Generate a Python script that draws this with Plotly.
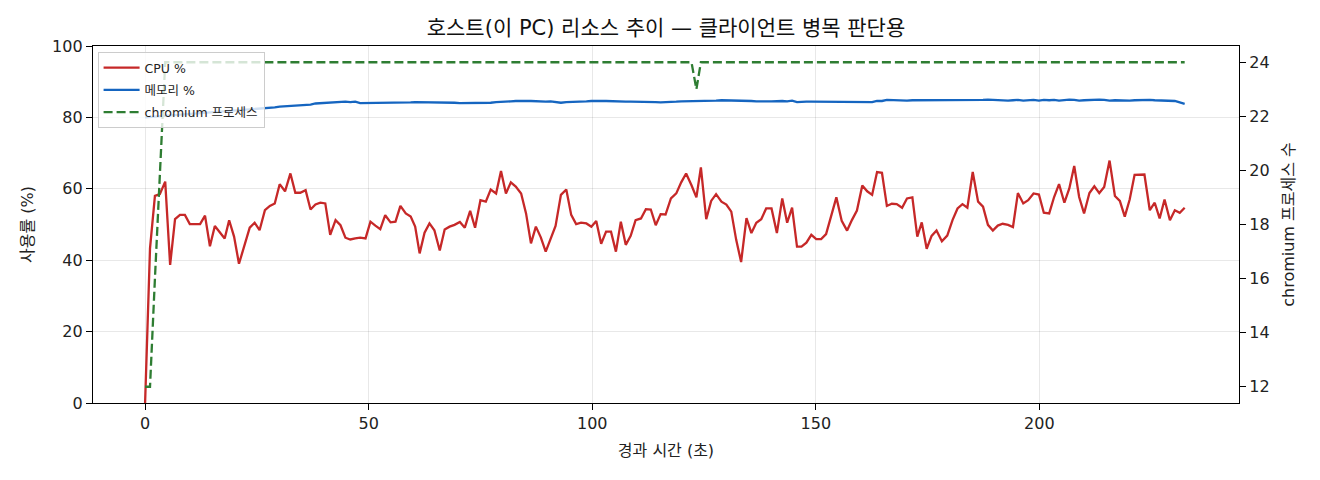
#!/usr/bin python3

# Imports
# ~~~~~~~~~~~~~~~~~~~~~~~~~~~~~~~~~~~~~~~~~~~~~~~~~~~~~~~~~~~~~~~~~~~~~~~~~~~~~~~~~~~~~~~~
# 3rd party:
from plotly import graph_objects as go

# ~~~~~~~~~~~~~~~~~~~~~~~~~~~~~~~~~~~~~~~~~~~~~~~~~~~~~~~~~~~~~~~~~~~~~~~~~~~~~~~~~~~~~~~~

FONT = '"DejaVu Sans", "Noto Sans CJK KR", sans-serif'

TITLE = "호스트(이 PC) 리소스 추이 — 클라이언트 병목 판단용"

# sample times (seconds since start)
elapsed_s = [
    0.0, 1.1, 2.2, 3.3, 4.5, 5.6, 6.7, 7.8, 8.9, 10.0,
    11.2, 12.3, 13.4, 14.5, 15.6, 16.7, 17.8, 18.8, 19.9, 21.0,
    22.2, 23.4, 24.5, 25.6, 26.8, 27.9, 29.0, 30.1, 31.3, 32.5,
    33.6, 34.7, 35.9, 37.0, 38.1, 39.2, 40.3, 41.4, 42.6, 43.7,
    44.8, 45.9, 47.0, 48.1, 49.3, 50.4, 51.5, 52.6, 53.7, 54.9,
    56.0, 57.1, 58.3, 59.4, 60.4, 61.4, 62.5, 63.6, 64.7, 65.9,
    67.0, 68.1, 69.2, 70.4, 71.5, 72.7, 73.8, 75.0, 76.2, 77.3,
    78.5, 79.6, 80.7, 81.8, 82.9, 84.1, 85.2, 86.3, 87.4, 88.5,
    89.6, 90.7, 91.8, 93.0, 94.2, 95.3, 96.4, 97.5, 98.7, 99.8,
    100.9, 102.0, 103.1, 104.2, 105.3, 106.4, 107.5, 108.6, 109.7, 110.9,
    112.0, 113.1, 114.2, 115.3, 116.4, 117.6, 118.8, 119.9, 121.0, 122.2,
    123.3, 124.3, 125.5, 126.6, 127.7, 128.9, 130.0, 131.1, 132.2, 133.3,
    134.5, 135.6, 136.7, 137.8, 138.9, 140.1, 141.3, 142.5, 143.6, 144.7,
    145.8, 146.8, 147.9, 149.0, 150.1, 151.2, 152.3, 153.4, 154.6, 155.8,
    157.0, 158.1, 159.2, 160.4, 161.5, 162.6, 163.7, 164.8, 165.9, 167.0,
    168.1, 169.3, 170.4, 171.6, 172.7, 173.7, 174.8, 175.9, 177.0, 178.2,
    179.4, 180.6, 181.7, 182.8, 183.9, 185.1, 186.3, 187.4, 188.5, 189.6,
    190.7, 191.8, 193.0, 194.1, 195.2, 196.4, 197.5, 198.7, 199.9, 201.0,
    202.2, 203.3, 204.4, 205.6, 206.7, 207.8, 208.9, 210.0, 211.2, 212.3,
    213.4, 214.5, 215.7, 216.9, 218.0, 219.1, 220.2, 221.3, 222.4, 223.5,
    224.7, 225.8, 226.9, 228.0, 229.2, 230.3, 231.4, 232.5,
]

cpu_pct = [
    0.0, 43.3, 58.0, 58.5, 62.0, 38.7, 51.5, 52.7, 52.7, 50.1,
    50.1, 50.1, 52.5, 43.9, 49.6, 48.0, 46.1, 51.2, 46.6, 39.0,
    44.2, 49.1, 50.5, 48.4, 54.0, 55.2, 55.9, 61.3, 59.3, 64.3,
    58.9, 58.9, 59.6, 54.2, 55.6, 56.1, 55.9, 47.1, 51.2, 49.8,
    46.3, 45.8, 46.1, 46.3, 46.1, 50.8, 49.7, 48.7, 52.6, 50.6,
    50.8, 55.2, 53.1, 52.2, 49.4, 41.9, 47.7, 50.3, 48.4, 42.7,
    48.6, 49.4, 49.9, 50.7, 49.1, 53.8, 49.1, 56.8, 56.4, 59.8,
    58.7, 65.0, 58.7, 61.8, 60.6, 58.7, 53.1, 44.7, 49.4, 46.4,
    42.4, 46.1, 49.6, 58.3, 59.8, 52.7, 50.1, 50.5, 50.3, 49.4,
    51.0, 44.6, 48.0, 48.0, 42.4, 50.8, 44.3, 46.8, 51.2, 51.7,
    54.3, 54.2, 49.8, 52.9, 52.8, 57.3, 58.7, 61.8, 64.3, 61.0,
    57.6, 66.0, 51.5, 56.6, 58.5, 56.4, 55.6, 53.6, 45.7, 39.5,
    51.8, 47.6, 50.5, 51.5, 54.5, 54.5, 47.6, 57.3, 50.5, 54.7,
    43.8, 43.8, 44.9, 47.1, 45.9, 45.9, 47.3, 52.2, 57.6, 51.0,
    48.3, 51.3, 53.9, 60.9, 59.3, 58.3, 64.7, 64.5, 55.2, 55.8,
    55.7, 54.7, 57.3, 57.6, 46.6, 50.6, 43.2, 46.8, 48.3, 45.3,
    46.9, 51.3, 54.5, 55.7, 54.7, 64.7, 56.4, 55.0, 49.9, 48.3,
    49.7, 50.2, 49.9, 49.3, 58.8, 55.9, 56.8, 58.7, 58.4, 53.3,
    53.1, 57.7, 61.3, 56.1, 60.1, 66.4, 57.7, 53.1, 58.8, 60.7,
    58.8, 60.5, 67.9, 58.0, 56.6, 52.2, 57.0, 63.9, 63.9, 64.0,
    54.0, 56.1, 51.7, 57.0, 51.2, 54.0, 53.3, 54.7,
]

mem_pct = [
    80.0, 80.1, 80.2, 80.3, 80.5, 80.6, 80.7, 80.8, 80.9, 81.0,
    81.1, 81.2, 81.3, 81.3, 81.4, 81.5, 81.6, 81.7, 81.8, 81.9,
    82.0, 82.1, 82.2, 82.3, 82.5, 82.6, 82.8, 83.0, 83.1, 83.4,
    83.3, 83.4, 83.6, 83.6, 83.9, 84.0, 84.1, 84.2, 84.4, 84.4,
    84.4, 84.3, 84.4, 84.0, 84.0, 84.0, 84.1, 84.1, 84.2, 84.2,
    84.1, 84.2, 84.2, 84.2, 84.3, 84.3, 84.2, 84.2, 84.3, 84.3,
    84.2, 84.1, 84.1, 84.0, 84.0, 84.1, 84.0, 84.1, 84.2, 84.1,
    84.3, 84.3, 84.5, 84.5, 84.6, 84.5, 84.6, 84.6, 84.5, 84.5,
    84.4, 84.5, 84.3, 84.1, 84.3, 84.3, 84.4, 84.4, 84.5, 84.6,
    84.7, 84.6, 84.6, 84.5, 84.5, 84.5, 84.4, 84.4, 84.4, 84.5,
    84.4, 84.3, 84.3, 84.2, 84.2, 84.3, 84.4, 84.5, 84.5, 84.5,
    84.6, 84.6, 84.6, 84.7, 84.7, 84.8, 84.8, 84.7, 84.8, 84.7,
    84.7, 84.6, 84.5, 84.4, 84.5, 84.5, 84.6, 84.6, 84.5, 84.7,
    84.3, 84.4, 84.4, 84.4, 84.4, 84.3, 84.4, 84.4, 84.3, 84.4,
    84.4, 84.4, 84.4, 84.4, 84.4, 84.3, 84.6, 84.6, 84.9, 84.8,
    84.8, 84.8, 84.7, 84.8, 84.8, 84.8, 84.7, 84.8, 84.8, 84.8,
    84.9, 84.8, 84.8, 84.7, 84.7, 84.8, 84.9, 84.9, 85.0, 84.9,
    84.8, 84.9, 84.7, 84.8, 84.9, 84.7, 84.8, 84.9, 84.7, 84.9,
    84.8, 84.9, 84.7, 84.9, 85.0, 84.9, 84.7, 84.8, 84.9, 84.8,
    85.0, 84.9, 84.7, 84.8, 84.7, 84.8, 84.7, 84.8, 84.9, 84.8,
    84.9, 84.8, 84.8, 84.7, 84.8, 84.6, 84.2, 83.8,
]

chromium_procs = [12, 12, 16, 20] + [24] * 106 + [23] + [24] * 97

x_ticks = [0, 50, 100, 150, 200]
y_ticks = [0, 20, 40, 60, 80, 100]
y2_ticks = [12, 14, 16, 18, 20, 22, 24]

COLOURS = {
    "cpu": "#c62828",
    "mem": "#1565c0",
    "chromium": "#2e7d32",
    "grid": "rgba(0,0,0,0.09)",
}

AXIS_COMMON = dict(
    showline=True,
    linecolor="black",
    linewidth=1.3,
    ticks="outside",
    ticklen=6,
    tickwidth=1.3,
    tickcolor="black",
    zeroline=False,
    automargin=False,
    tickfont=dict(family=FONT, size=16, color="#222"),
    title_font=dict(family=FONT, size=16, color="#222"),
)


fig = go.Figure()

fig.add_trace(
    go.Scatter(
        x=elapsed_s,
        y=cpu_pct,
        name="CPU %",
        legendgroup="cpu",
        mode="lines",
        line=dict(color=COLOURS["cpu"], width=2.3),
    )
)

fig.add_trace(
    go.Scatter(
        x=elapsed_s,
        y=mem_pct,
        name="메모리 %",
        legendgroup="mem",
        mode="lines",
        line=dict(color=COLOURS["mem"], width=2.3),
    )
)

fig.add_trace(
    go.Scatter(
        x=elapsed_s,
        y=chromium_procs,
        name="chromium 프로세스",
        legendgroup="chromium",
        mode="lines",
        yaxis="y2",
        line=dict(color=COLOURS["chromium"], width=2.3, dash="9px,4px"),
    )
)

fig.update_layout(
    width=1320,
    height=480,
    paper_bgcolor="white",
    plot_bgcolor="white",
    margin=dict(l=93, r=81, t=46, b=77, autoexpand=False),
    title=dict(
        text=TITLE,
        x=0.5,
        xref="paper",
        xanchor="center",
        y=1 - 28 / 480,
        yref="container",
        yanchor="middle",
        font=dict(family=FONT, size=21, color="#111"),
    ),
    showlegend=True,
    legend=dict(
        x=0.004,
        y=0.983,
        xanchor="left",
        yanchor="top",
        bgcolor="rgba(255,255,255,0.8)",
        bordercolor="#cccccc",
        borderwidth=1,
        font=dict(family=FONT, size=12.5, color="#222"),
        itemwidth=36,
        tracegroupgap=3,
    ),
    xaxis=dict(
        range=[-11.65, 244.65],
        tickvals=x_ticks,
        showgrid=True,
        gridcolor=COLOURS["grid"],
        mirror=True,
        title=dict(text="경과 시간 (초)", standoff=12),
        **AXIS_COMMON
    ),
    yaxis=dict(
        range=[0, 100],
        tickvals=y_ticks,
        showgrid=True,
        gridcolor=COLOURS["grid"],
        title=dict(text="사용률 (%)", standoff=14),
        **AXIS_COMMON
    ),
    yaxis2=dict(
        overlaying="y",
        side="right",
        range=[11.4, 24.6],
        tickvals=y2_ticks,
        showgrid=False,
        title=dict(text="chromium 프로세스 수", standoff=14),
        **AXIS_COMMON
    ),
)

# the page body has a default 8px margin, drop it so the figure sits at 0,0
fig.write_html(
    "out.html",
    config={"displayModeBar": False},
    post_script="document.body.style.margin = '0';",
)
